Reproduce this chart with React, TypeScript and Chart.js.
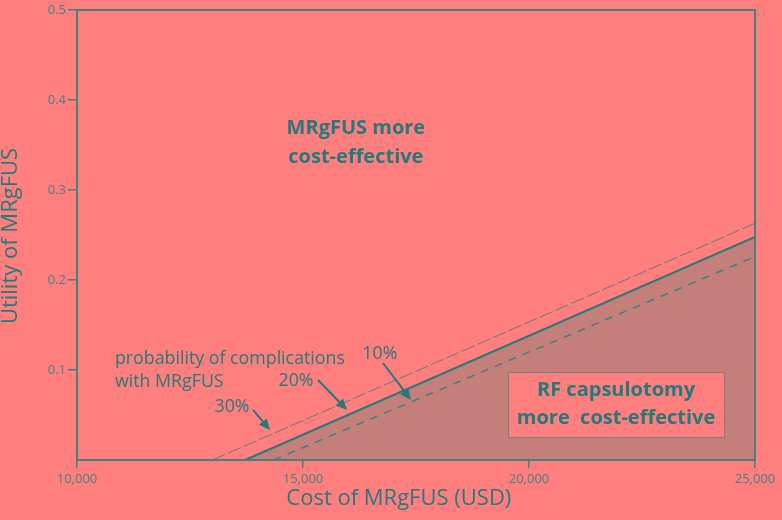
import React, { useEffect, useRef } from "react";
import { Chart, registerables } from "chart.js";

Chart.register(...registerables);

// ---- data ----
const X_TICKS = [10000, 15000, 20000, 25000];
const Y_TICKS = [0.1, 0.2, 0.3, 0.4, 0.5];

// threshold lines: costs and utilities at the two ends
const P30_X = [13000, 25000];
const P30_Y = [0, 0.263];
const P20_X = [13720, 25000];
const P20_Y = [0, 0.248];
const P10_X = [14350, 25000];
const P10_Y = [0, 0.226];

// titles
const X_TITLE = "Cost of MRgFUS (USD)";
const Y_TITLE = "Utility of MRgFUS";
const X_TITLE_X = 17120; // data x of title centre

// annotations (data coordinates)
const REGION_TOP_TEXT = ["MRgFUS more", "cost-effective"];
const REGION_TOP_POS = [16170, 0.369, 0.336];
const PROB_TEXT = ["probability of complications", "with MRgFUS"];
const PROB_POS = [10840, 0.112, 0.0867];
const PCT_LABELS = ["30%", "20%", "10%"];
const PCT_LABEL_X = [13430, 14845, 16700];
const PCT_LABEL_Y = [0.059, 0.0878, 0.1178];
const ARROW_FROM_X = [13894, 15332, 16770];
const ARROW_FROM_Y = [0.0556, 0.0889, 0.1078];
const ARROW_TO_X = [14270, 15973, 17389];
const ARROW_TO_Y = [0.0333, 0.0556, 0.0667];
const RF_TEXT = ["RF capsulotomy", "more  cost-effective"];
const RF_BOX_X = [19535, 24314];
const RF_BOX_Y = [0.0978, 0.0256];
const RF_TEXT_X = 21925;
const RF_TEXT_Y = [0.0778, 0.0467];

const BG = "#ff7f7f";
const SHADE = "#c47f7b";
const TEAL = "#25797a";
const AXIS = "#458181";
const FONT = "'Open Sans', 'Noto Sans', sans-serif";

const pts = (xs: number[], ys: number[]) => xs.map((x, i) => ({ x, y: ys[i] }));

const annotations = {
  id: "annotations",
  afterDatasetsDraw(chart: any) {
    const { ctx, chartArea: a, scales } = chart;
    const sx = scales.x, sy = scales.y;
    ctx.save();
    // plot frame
    ctx.strokeStyle = AXIS;
    ctx.lineWidth = 2;
    ctx.strokeRect(a.left, a.top, a.right - a.left, a.bottom - a.top);

    ctx.fillStyle = TEAL;
    ctx.textBaseline = "middle";

    // axis titles
    ctx.font = `22px ${FONT}`;
    ctx.textAlign = "center";
    ctx.fillText(X_TITLE, sx.getPixelForValue(X_TITLE_X), 499);
    ctx.save();
    ctx.translate(11, (a.top + a.bottom) / 2 + 1);
    ctx.rotate(-Math.PI / 2);
    ctx.fillText(Y_TITLE, 0, 0);
    ctx.restore();

    // MRgFUS more cost-effective
    ctx.font = `bold 20px ${FONT}`;
    ctx.textAlign = "center";
    ctx.fillText(REGION_TOP_TEXT[0], sx.getPixelForValue(REGION_TOP_POS[0]), sy.getPixelForValue(REGION_TOP_POS[1]));
    ctx.fillText(REGION_TOP_TEXT[1], sx.getPixelForValue(REGION_TOP_POS[0]), sy.getPixelForValue(REGION_TOP_POS[2]));

    // probability text
    ctx.font = `17.8px ${FONT}`;
    ctx.textAlign = "left";
    ctx.fillText(PROB_TEXT[0], sx.getPixelForValue(PROB_POS[0]), sy.getPixelForValue(PROB_POS[1]));
    ctx.fillText(PROB_TEXT[1], sx.getPixelForValue(PROB_POS[0]), sy.getPixelForValue(PROB_POS[2]));

    // percent labels
    ctx.textAlign = "center";
    PCT_LABELS.forEach((t, i) => {
      ctx.fillText(t, sx.getPixelForValue(PCT_LABEL_X[i]), sy.getPixelForValue(PCT_LABEL_Y[i]));
    });

    // arrows
    ctx.strokeStyle = TEAL;
    ctx.lineWidth = 2;
    PCT_LABELS.forEach((_, i) => {
      const x1 = sx.getPixelForValue(ARROW_FROM_X[i]);
      const y1 = sy.getPixelForValue(ARROW_FROM_Y[i]);
      const x2 = sx.getPixelForValue(ARROW_TO_X[i]);
      const y2 = sy.getPixelForValue(ARROW_TO_Y[i]);
      const ang = Math.atan2(y2 - y1, x2 - x1);
      const hl = 11, hw = 5;
      const bx = x2 - hl * Math.cos(ang), by = y2 - hl * Math.sin(ang);
      ctx.beginPath();
      ctx.moveTo(x1, y1);
      ctx.lineTo(bx, by);
      ctx.stroke();
      ctx.beginPath();
      ctx.moveTo(x2, y2);
      ctx.lineTo(bx + hw * Math.sin(ang), by - hw * Math.cos(ang));
      ctx.lineTo(bx - hw * Math.sin(ang), by + hw * Math.cos(ang));
      ctx.closePath();
      ctx.fill();
    });

    // RF box
    const bx1 = sx.getPixelForValue(RF_BOX_X[0]);
    const bx2 = sx.getPixelForValue(RF_BOX_X[1]);
    const by1 = sy.getPixelForValue(RF_BOX_Y[0]);
    const by2 = sy.getPixelForValue(RF_BOX_Y[1]);
    ctx.fillStyle = BG;
    ctx.fillRect(bx1, by1, bx2 - bx1, by2 - by1);
    ctx.strokeStyle = "#6f8585";
    ctx.lineWidth = 1;
    ctx.strokeRect(bx1 + 0.5, by1 + 0.5, bx2 - bx1, by2 - by1);
    ctx.fillStyle = TEAL;
    ctx.font = `bold 20px ${FONT}`;
    ctx.textAlign = "center";
    RF_TEXT.forEach((t, i) => {
      ctx.fillText(t, sx.getPixelForValue(RF_TEXT_X), sy.getPixelForValue(RF_TEXT_Y[i]));
    });
    ctx.restore();
  },
};

export default function App() {
  const ref = useRef<HTMLCanvasElement>(null);
  useEffect(() => {
    document.body.style.margin = "0";
    document.body.style.background = BG;
    const chart = new Chart(ref.current!, {
      type: "scatter",
      data: {
        datasets: [
          {
            data: pts(P20_X, P20_Y),
            showLine: true,
            borderColor: TEAL,
            borderWidth: 2,
            backgroundColor: SHADE,
            fill: "origin",
            pointRadius: 0,
            order: 3,
          },
          {
            data: pts(P30_X, P30_Y),
            showLine: true,
            borderColor: "rgba(60,120,120,0.8)",
            borderWidth: 1,
            borderDash: [14, 3],
            pointRadius: 0,
            fill: false,
            order: 1,
          },
          {
            data: pts(P10_X, P10_Y),
            showLine: true,
            borderColor: "#3d8080",
            borderWidth: 1.5,
            borderDash: [8, 7],
            pointRadius: 0,
            fill: false,
            order: 2,
          },
        ],
      },
      options: {
        animation: false,
        responsive: false,
        events: [],
        layout: { padding: { top: 10, right: 27, left: 0, bottom: 0 } },
        plugins: { legend: { display: false }, tooltip: { enabled: false } },
        scales: {
          x: {
            type: "linear",
            min: X_TICKS[0],
            max: X_TICKS[X_TICKS.length - 1],
            afterBuildTicks: (s: any) => {
              s.ticks = X_TICKS.map((v) => ({ value: v }));
            },
            afterFit: (s: any) => {
              s.height = 60;
            },
            ticks: {
              maxRotation: 0,
              autoSkip: false,
              padding: 3,
              color: AXIS,
              font: { family: FONT, size: 13 },
              callback: (v: any) => Number(v).toLocaleString("en-US"),
            },
            grid: { drawOnChartArea: false, drawTicks: true, tickLength: 8, color: AXIS, lineWidth: 1.5 },
            border: { display: true, color: AXIS, width: 2 },
            title: { display: false },
          },
          y: {
            min: 0,
            max: 0.5,
            afterBuildTicks: (s: any) => {
              s.ticks = Y_TICKS.map((v) => ({ value: v }));
            },
            afterFit: (s: any) => {
              s.width = 77;
            },
            ticks: {
              padding: 2,
              color: AXIS,
              font: { family: FONT, size: 13 },
              callback: (v: any) => Number(v).toFixed(1),
            },
            grid: { drawOnChartArea: false, drawTicks: true, tickLength: 9, color: AXIS, lineWidth: 1.5 },
            border: { display: true, color: AXIS, width: 2 },
            title: { display: false },
          },
        },
      },
      plugins: [annotations],
    } as any);
    return () => chart.destroy();
  }, []);
  return (
    <div style={{ position: "absolute", left: 0, top: 0, width: 782, height: 520, background: BG }}>
      <canvas ref={ref} width={782} height={520} />
    </div>
  );
}
